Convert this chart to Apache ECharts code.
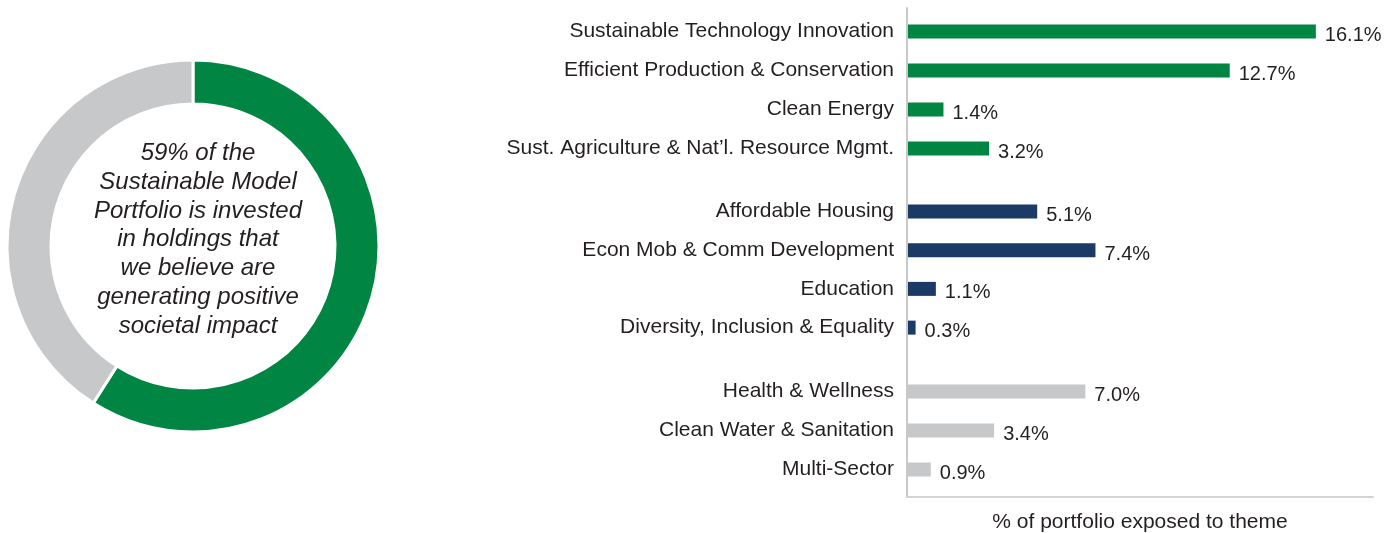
<!DOCTYPE html>
<html>
<head>
<meta charset="utf-8">
<script src="https://cdn.jsdelivr.net/npm/echarts@6/dist/echarts.min.js"></script>
<style>
    html, body { margin: 0; padding: 0; background: #fff; }
    #main { width: 1387px; height: 533px; }
</style>
</head>
<body>
<div id="main"></div>
<script>
// 数据
var donutNames = ['Positive societal impact', 'Other'];
var donutValues = [59, 41];
var donutText = '59% of the\nSustainable Model\nPortfolio is invested\nin holdings that\nwe believe are\ngenerating positive\nsocietal impact';

var envThemes = ['Sustainable Technology Innovation', 'Efficient Production & Conservation', 'Clean Energy', 'Sust. Agriculture & Nat\u2019l. Resource Mgmt.'];
var envValues = [16.1, 12.7, 1.4, 3.2];

var socThemes = ['Affordable Housing', 'Econ Mob & Comm Development', 'Education', 'Diversity, Inclusion & Equality'];
var socValues = [5.1, 7.4, 1.1, 0.3];

var othThemes = ['Health & Wellness', 'Clean Water & Sanitation', 'Multi-Sector'];
var othValues = [7.0, 3.4, 0.9];

var axisTitle = '% of portfolio exposed to theme';

var GREEN = '#008542', NAVY = '#1c3a66', GREY = '#c7c8ca';
var FONT = '"Liberation Sans", Arial, sans-serif';

var dom = document.getElementById('main');
var myChart = echarts.init(dom);

var groups = [
    {names: envThemes, values: envValues, color: GREEN, top: 12, height: 156},
    {names: socThemes, values: socValues, color: NAVY, top: 192, height: 155},
    {names: othThemes, values: othValues, color: GREY, top: 372, height: 117}
];

var grids = [], xAxes = [], yAxes = [], series = [];
groups.forEach(function (g, i) {
    grids.push({left: 908, right: 23, top: g.top, height: g.height, outerBoundsMode: 'none'});
    xAxes.push({type: 'value', gridIndex: i, min: 0, max: 18, show: false});
    yAxes.push({
        type: 'category', gridIndex: i, inverse: true, data: g.names,
        axisLine: {show: false}, axisTick: {show: false},
        axisLabel: {color: '#231f20', fontSize: 21, fontFamily: FONT, margin: 14}
    });
    series.push({
        type: 'bar', xAxisIndex: i, yAxisIndex: i, data: g.values,
        barWidth: 14, itemStyle: {color: g.color},
        label: {
            show: true, position: 'right', distance: 9, offset: [0, 4],
            color: '#231f20', fontSize: 20, fontFamily: FONT,
            formatter: function (p) { return p.value.toFixed(1) + '%'; }
        }
    });
});

// 坐标轴框线
grids.push({left: 907, right: 14, top: 8, bottom: 36, outerBoundsMode: 'none'});
xAxes.push({
    type: 'value', gridIndex: 3, min: 0, max: 1,
    axisLine: {show: true, lineStyle: {color: '#d4d4d4', width: 2}},
    axisTick: {show: false}, axisLabel: {show: false}, splitLine: {show: false},
    name: axisTitle, nameLocation: 'middle', nameGap: 15,
    nameTextStyle: {color: '#231f20', fontSize: 21, fontFamily: FONT, verticalAlign: 'top'}
});
yAxes.push({
    type: 'value', gridIndex: 3, min: 0, max: 1,
    axisLine: {show: true, lineStyle: {color: '#c8c8c8', width: 2}},
    axisTick: {show: false}, axisLabel: {show: false}, splitLine: {show: false}
});

series.push({
    type: 'pie',
    center: [193, 246],
    radius: [142, 186],
    startAngle: 90,
    clockwise: true,
    silent: true,
    label: {show: false},
    itemStyle: {borderColor: '#fff', borderWidth: 3},
    color: [GREEN, GREY],
    data: donutNames.map(function (n, i) { return {name: n, value: donutValues[i]}; })
});

var option = {
    animation: false,
    title: {
        text: donutText,
        left: 193, top: 134,
        textAlign: 'center',
        textStyle: {
            color: '#231f20', fontSize: 24, fontStyle: 'italic', fontWeight: 'normal',
            fontFamily: FONT, lineHeight: 28.8
        }
    },
    grid: grids,
    xAxis: xAxes,
    yAxis: yAxes,
    series: series
};

myChart.setOption(option);
</script>
</body>
</html>
